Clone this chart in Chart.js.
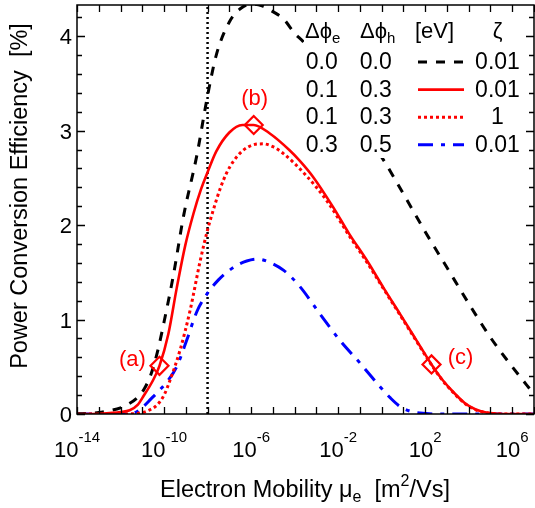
<!DOCTYPE html>
<html>
<head>
<meta charset="utf-8">
<script src="https://cdn.jsdelivr.net/npm/chart.js@4"></script>
<style>
  html, body { margin: 0; padding: 0; background: #fff; }
  canvas { display: block; }
</style>
</head>
<body>
<canvas id="pce-chart" width="535" height="508"></canvas>
<script>
// x values are log10 of the electron mobility [m^2/Vs], y values are PCE [%]

// dphi_e = 0.0, dphi_h = 0.0, zeta = 0.01
const logMuDashed = [-14, -13.5, -13, -12.5, -12, -11.6, -11.2, -10.9, -10.6, -10.3, -9.95, -9.57, -9.1, -8.5, -8, -7.6, -7, -6.5, -6, -5.5, -5, -4.5, -4, -3.6, -3, -2, -1, 0, 1, 2, 3, 4, 5, 6, 7];
const pceDashed   = [0, 0.005, 0.015, 0.035, 0.065, 0.11, 0.18, 0.27, 0.42, 0.66, 1.03, 1.47, 2.1, 2.73, 3.37, 3.8, 4.15, 4.29, 4.34, 4.32, 4.26, 4.18, 4.03, 3.94, 3.75, 3.41, 3.05, 2.72, 2.33, 1.93, 1.55, 1.17, 0.81, 0.5, 0.21];

// dphi_e = 0.1, dphi_h = 0.3, zeta = 0.01
const logMuSolid = [-14, -13, -12.5, -12, -11.58, -11.2, -10.97, -10.5, -10.21, -9.8, -9.42, -9.03, -8.65, -8.3, -8, -7.6, -7, -6.4, -5.88, -5.14, -4.22, -3.76, -3.15, -2.23, -1.5, -0.69, 0.1, 0.84, 1.6, 2.29, 2.8, 3.3, 3.8, 4.3, 4.8, 5.3, 5.8, 7];
const pceSolid   = [0, 0.003, 0.01, 0.02, 0.04, 0.1, 0.18, 0.36, 0.51, 0.85, 1.33, 1.78, 2.12, 2.38, 2.56, 2.78, 2.98, 3.06, 3.06, 2.97, 2.79, 2.68, 2.51, 2.19, 1.91, 1.63, 1.33, 1.06, 0.78, 0.525, 0.36, 0.23, 0.12, 0.05, 0.015, 0.003, 0, 0];

// dphi_e = 0.1, dphi_h = 0.3, zeta = 1
const logMuDotted = [-14, -12, -11.1, -10.6, -10.3, -10, -9.72, -9.26, -8.8, -8.34, -8, -7.75, -7.43, -7.13, -6.8, -6.37, -5.9, -5.45, -5, -4.53, -3.45, -2.53, -1.5, -0.69, 0.1, 0.84, 1.6, 2.29, 2.8, 3.3, 3.8, 4.3, 4.8, 5.3, 5.8, 7];
const pceDotted   = [0, 0, 0.01, 0.05, 0.1, 0.2, 0.36, 0.68, 1.1, 1.62, 1.95, 2.15, 2.38, 2.55, 2.68, 2.79, 2.85, 2.86, 2.83, 2.76, 2.52, 2.26, 1.89, 1.61, 1.32, 1.05, 0.77, 0.52, 0.355, 0.225, 0.115, 0.045, 0.013, 0.002, 0, 0];

// dphi_e = 0.3, dphi_h = 0.5, zeta = 0.01
const logMuDashDot = [-14, -12, -11.4, -10.95, -10.6, -10.34, -9.8, -9.42, -8.96, -8.5, -8, -7.5, -7.12, -6.6, -6.2, -5.7, -5.2, -4.5, -3.76, -2.84, -1.92, -1, -0.08, 0.4, 0.84, 1.3, 1.76, 2.5, 7];
const pceDashDot   = [0, 0, 0.01, 0.08, 0.16, 0.22, 0.36, 0.5, 0.78, 1.08, 1.28, 1.42, 1.5, 1.58, 1.62, 1.64, 1.61, 1.52, 1.35, 1.06, 0.78, 0.54, 0.29, 0.17, 0.08, 0.03, 0.01, 0, 0];

// marked points (a), (b), (c) on the solid curve
const markerNames = ['(a)', '(b)', '(c)'];
const logMuMarkers = [-10.21, -5.88, 2.29];

// vertical reference line
const logMuReference = -8;

// legend table
const legendHeader = ['Δϕ', 'Δϕ', '[eV]', 'ζ'];
const legendDphiE = ['0.0', '0.1', '0.1', '0.3'];
const legendDphiH = ['0.0', '0.3', '0.3', '0.5'];
const legendZeta  = ['0.01', '0.01', '1', '0.01'];

// axes
const xMinExp = -14;
const xMaxExp = 7;
const xLabelExps = [-14, -10, -6, -2, 2, 6];
const yMax = 4.33;
const yLabels = [0, 1, 2, 3, 4];

const FONT = '"Liberation Sans", Arial, sans-serif';

const toPoints = (logMu, pce) => logMu.map((e, i) => ({ x: Math.pow(10, e), y: pce[i] }));

const styles = [
  { color: '#000000', dash: [9, 9], width: 3 },
  { color: '#ff0000', dash: [], width: 2.6 },
  { color: '#ff0000', dash: [3, 3], width: 3 },
  { color: '#0000ff', dash: [15, 8, 4, 8], width: 3 }
];

// draws text made of pieces with their own size and vertical shift
function richText(ctx, parts, x, y, align) {
  let total = 0;
  parts.forEach(p => { ctx.font = p.size + 'px ' + FONT; p.w = ctx.measureText(p.t).width; total += p.w; });
  let cx = align === 'center' ? x - total / 2 : (align === 'right' ? x - total : x);
  ctx.textAlign = 'left';
  ctx.textBaseline = 'alphabetic';
  parts.forEach(p => {
    ctx.font = p.size + 'px ' + FONT;
    ctx.fillText(p.t, cx, y + (p.dy || 0));
    cx += p.w;
  });
}

const isMarker = i => logMuMarkers.includes(logMuSolid[i]);

const decorations = {
  id: 'decorations',
  afterDatasetsDraw(chart) {
    const { ctx, chartArea: a, scales: { x, y } } = chart;
    ctx.save();

    // marker labels
    ctx.fillStyle = '#ff0000';
    const labelOffsets = [[-27, 0], [1, -20], [29, 0]];
    markerNames.forEach((name, i) => {
      const k = logMuSolid.indexOf(logMuMarkers[i]);
      const px = x.getPixelForValue(Math.pow(10, logMuSolid[k]));
      const py = y.getPixelForValue(pceSolid[k]);
      richText(ctx, [{ t: name, size: 22 }], px + labelOffsets[i][0], py + labelOffsets[i][1], 'center');
    });

    // legend table (covers the curves behind it)
    ctx.fillStyle = '#ffffff';
    ctx.fillRect(304, 14, 223, 144);
    ctx.fillStyle = '#000000';
    richText(ctx, [{ t: legendHeader[0], size: 22 }, { t: 'e', size: 15, dy: 5 }], 305, 38, 'left');
    richText(ctx, [{ t: legendHeader[1], size: 22 }, { t: 'h', size: 15, dy: 5 }], 360, 38, 'left');
    richText(ctx, [{ t: legendHeader[2], size: 22 }], 415, 38, 'left');
    richText(ctx, [{ t: legendHeader[3], size: 22 }], 497.5, 38, 'center');
    legendDphiE.forEach((v, i) => {
      const base = 69 + i * 27.6;
      ctx.fillStyle = '#000000';
      richText(ctx, [{ t: v, size: 23 }], 321.7, base, 'center');
      richText(ctx, [{ t: legendDphiH[i], size: 23 }], 375.8, base, 'center');
      richText(ctx, [{ t: legendZeta[i], size: 23 }], 497.5, base, 'center');
      const s = styles[i];
      ctx.strokeStyle = s.color;
      ctx.lineWidth = s.width;
      ctx.setLineDash(s.dash);
      ctx.beginPath();
      ctx.moveTo(418, base - 7);
      ctx.lineTo(464, base - 7);
      ctx.stroke();
    });
    ctx.setLineDash([]);

    // frame
    ctx.strokeStyle = '#000000';
    ctx.lineWidth = 1.5;
    ctx.strokeRect(a.left, a.top, a.right - a.left, a.bottom - a.top);

    // x ticks, every decade, inward on bottom and top
    ctx.lineWidth = 1.3;
    ctx.beginPath();
    for (let e = xMinExp; e <= xMaxExp; e++) {
      const px = Math.round(x.getPixelForValue(Math.pow(10, e))) + 0.5;
      ctx.moveTo(px, a.bottom); ctx.lineTo(px, a.bottom - 7);
      ctx.moveTo(px, a.top); ctx.lineTo(px, a.top + 7);
    }
    // y ticks, minor every 0.2
    for (let k = 0; k * 0.2 <= yMax; k++) {
      const py = Math.round(y.getPixelForValue(k * 0.2)) + 0.5;
      const len = k % 5 === 0 ? 8 : 5;
      ctx.moveTo(a.left, py); ctx.lineTo(a.left + len, py);
      ctx.moveTo(a.right, py); ctx.lineTo(a.right - len, py);
    }
    ctx.stroke();

    // tick labels
    ctx.fillStyle = '#000000';
    yLabels.forEach(v => {
      const py = y.getPixelForValue(v);
      richText(ctx, [{ t: String(v), size: 22 }], a.left - 5, py + 8, 'right');
    });
    xLabelExps.forEach(e => {
      const px = x.getPixelForValue(Math.pow(10, e));
      richText(ctx, [{ t: '10', size: 22 }, { t: String(e), size: 15, dy: -15 }], px, a.bottom + 43, 'center');
    });

    // axis titles
    richText(ctx, [
      { t: 'Electron Mobility μ', size: 23.5 },
      { t: 'e', size: 16, dy: 5 },
      { t: '  [m', size: 23.5 },
      { t: '2', size: 16, dy: -11 },
      { t: '/Vs]', size: 23.5 }
    ], 305, 497, 'center');

    ctx.translate(27, 196);
    ctx.rotate(-Math.PI / 2);
    richText(ctx, [{ t: 'Power Conversion Efficiency  [%]', size: 23.5 }], 0, 0, 'center');

    ctx.restore();
  }
};

const curveData = [
  [logMuSolid, pceSolid],
  [logMuDashed, pceDashed],
  [logMuDotted, pceDotted],
  [logMuDashDot, pceDashDot]
];
const curveStyles = [styles[1], styles[0], styles[2], styles[3]];

const datasets = curveData.map(([lx, py], i) => ({
  data: toPoints(lx, py),
  borderColor: curveStyles[i].color,
  borderDash: curveStyles[i].dash,
  borderWidth: curveStyles[i].width,
  cubicInterpolationMode: 'monotone',
  fill: false,
  pointStyle: 'rectRot',
  pointRadius: i === 0 ? (c => isMarker(c.dataIndex) ? 9 : 0) : 0,
  pointBorderWidth: 2.2,
  pointBorderColor: '#ff0000',
  pointBackgroundColor: 'rgba(255,255,255,0)'
})).concat([{
  data: [{ x: Math.pow(10, logMuReference), y: 0 }, { x: Math.pow(10, logMuReference), y: yMax }],
  borderColor: '#000000',
  borderDash: [2, 3],
  borderWidth: 2.5,
  pointRadius: 0
}]);

new Chart(document.getElementById('pce-chart').getContext('2d'), {
  type: 'line',
  data: { datasets },
  options: {
    responsive: false,
    animation: false,
    layout: { padding: { left: 77, top: 5, right: 1, bottom: 94 } },
    plugins: { legend: { display: false }, tooltip: { enabled: false } },
    scales: {
      x: { type: 'logarithmic', min: Math.pow(10, xMinExp), max: Math.pow(10, xMaxExp), display: false },
      y: { type: 'linear', min: 0, max: yMax, display: false }
    }
  },
  plugins: [decorations]
});
</script>
</body>
</html>
